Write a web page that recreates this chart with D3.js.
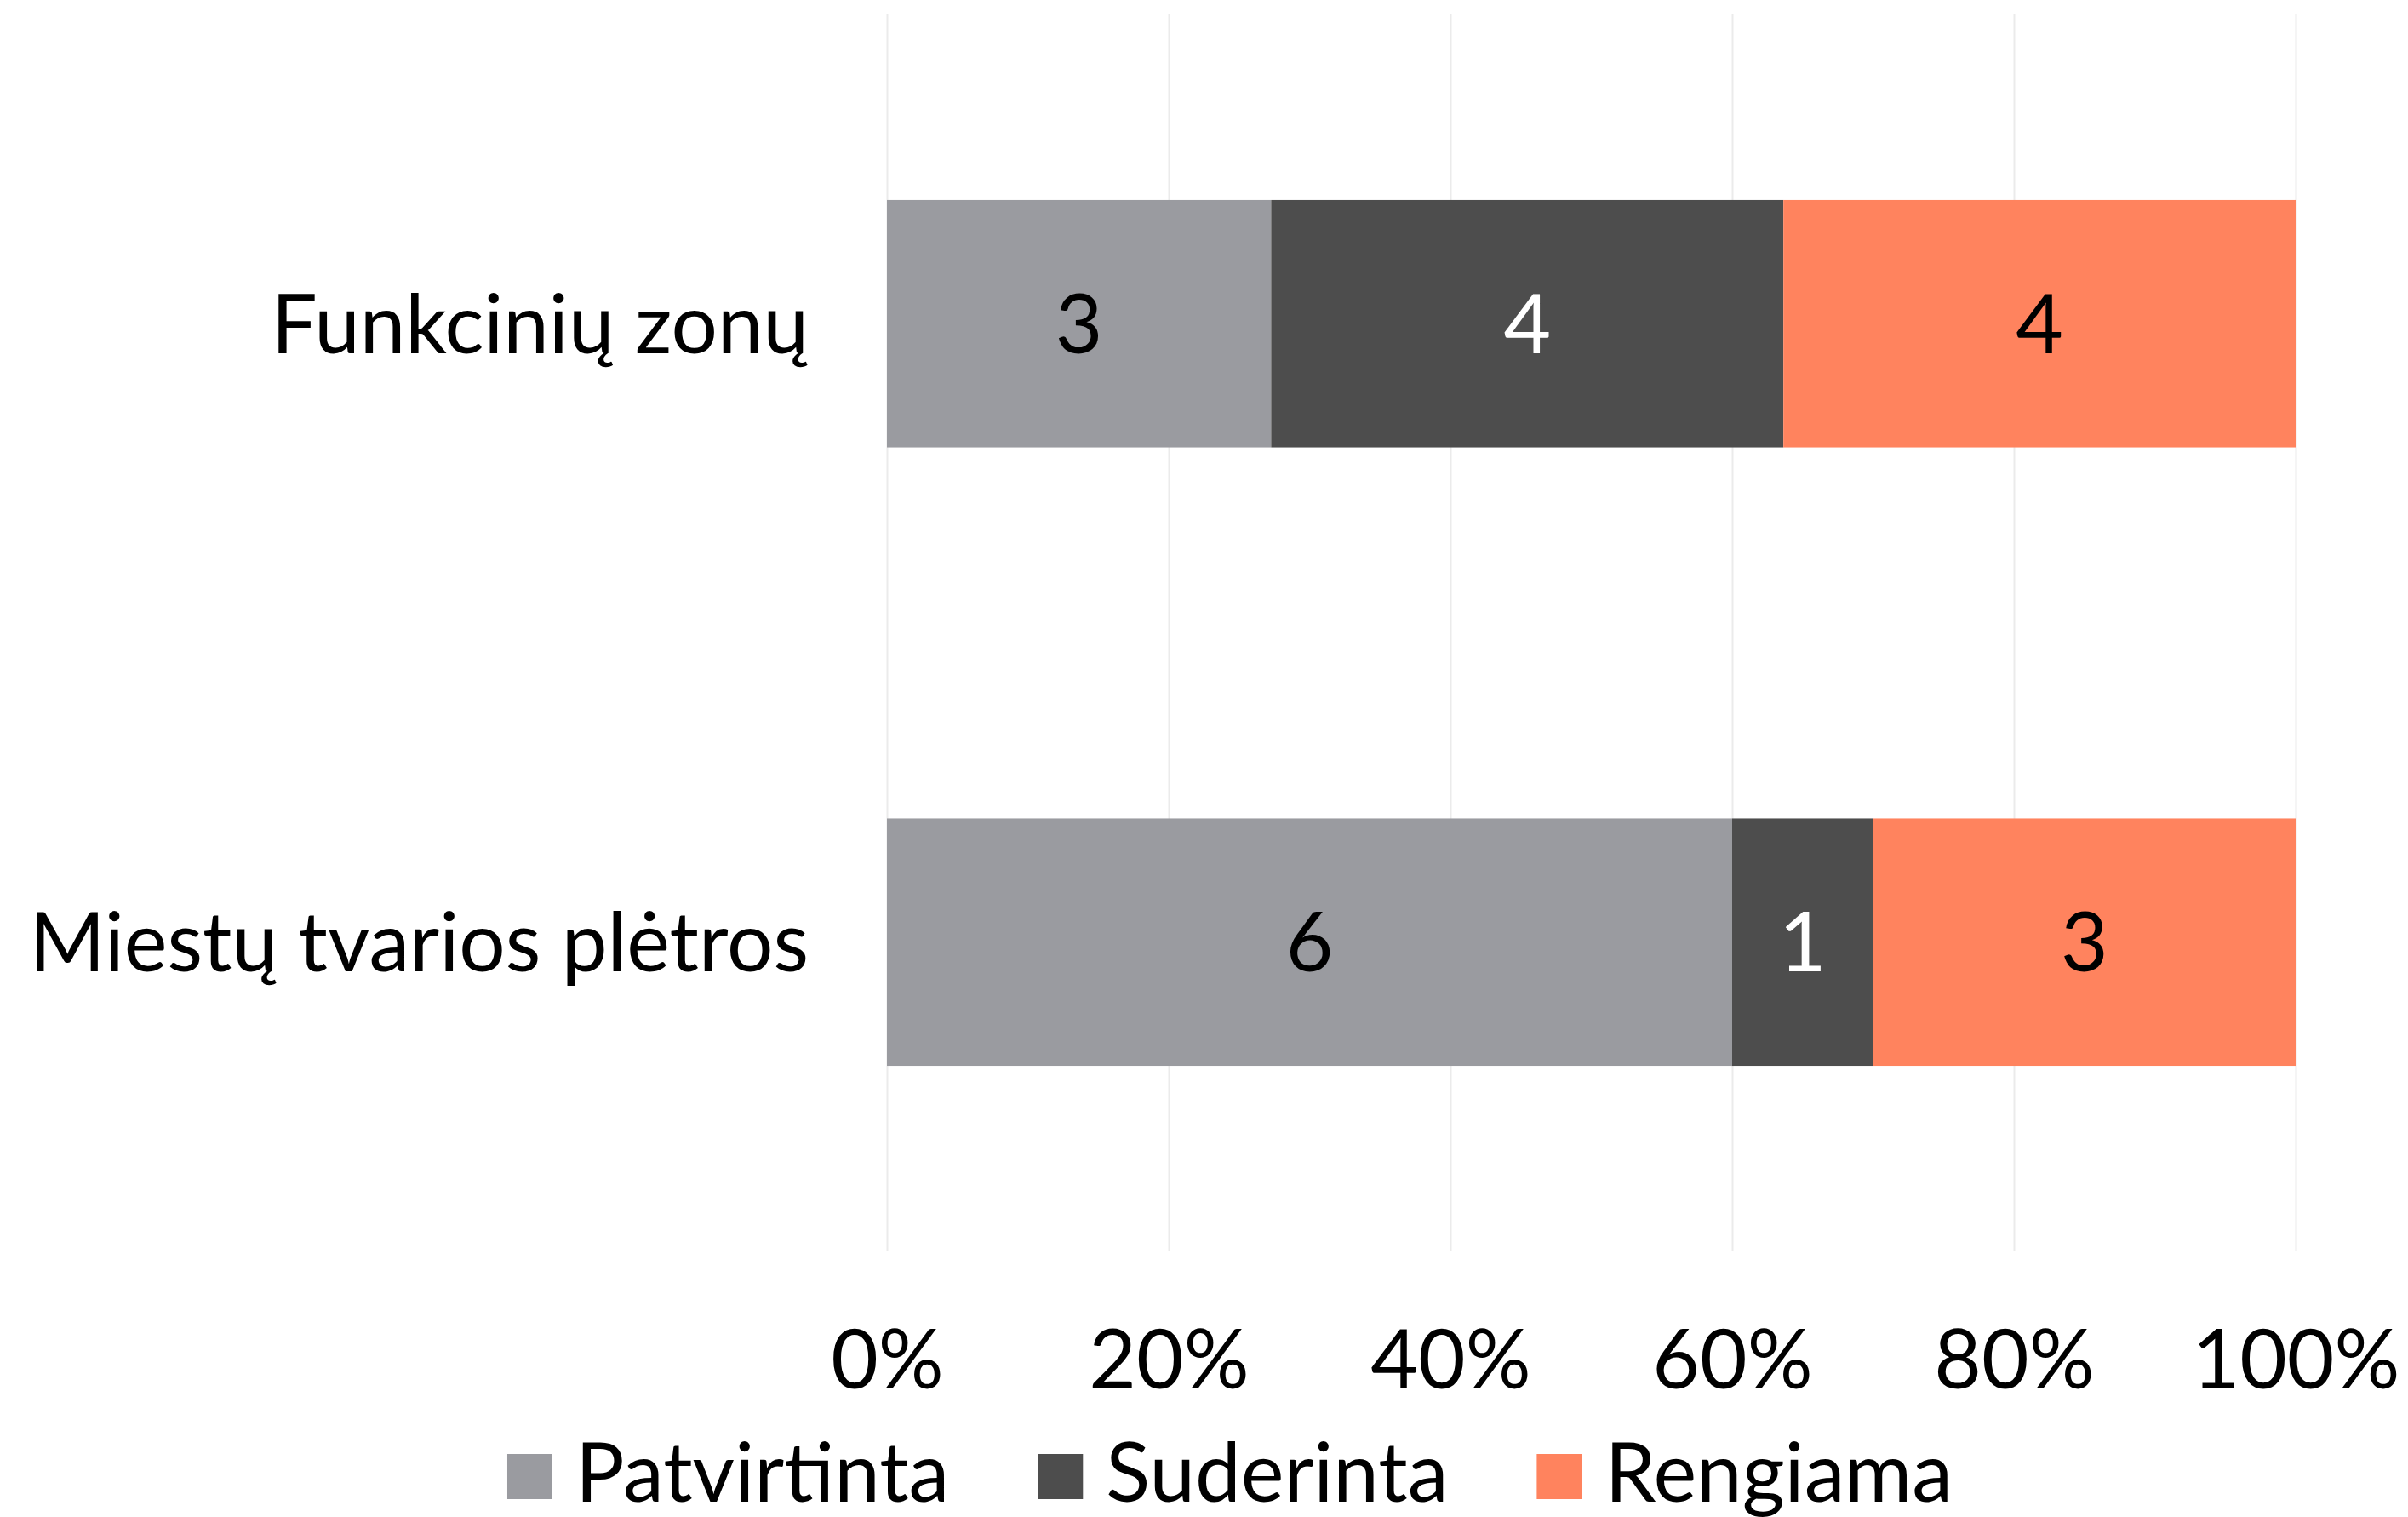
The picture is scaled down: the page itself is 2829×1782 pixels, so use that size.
<!DOCTYPE html>
<html>
<head>
<meta charset="utf-8">
<script src="https://cdn.jsdelivr.net/npm/d3@7"></script>
<style>
  body { margin: 0; background: #fff; }
  text { font-family: Lato, "Noto Sans", sans-serif; }
</style>
</head>
<body>
<div id="chart"></div>
<script>
const categories = ['Funkcinių zonų', 'Miestų tvarios plėtros'];
const seriesNames = ['Patvirtinta', 'Suderinta', 'Rengiama'];
const patvirtinta = [3, 6];
const suderinta = [4, 1];
const rengiama = [4, 3];
const tickValues = [0, 0.2, 0.4, 0.6, 0.8, 1];

const colors = ['#9a9ba0', '#4d4d4d', '#ff835e'];
const labelColors = ['#000', '#fff', '#000'];

const width = 2829;
const height = 1782;
const margin = {top: 17, right: 132, bottom: 312, left: 1042};
const fontSize = 96;

const rows = categories.map((c, i) => ({
    cat: c,
    Patvirtinta: patvirtinta[i],
    Suderinta: suderinta[i],
    Rengiama: rengiama[i]
}));

const stacked = d3.stack()
    .keys(seriesNames)
    .offset(d3.stackOffsetExpand)(rows);

const svg = d3.select('#chart')
    .append('svg')
    .attr('width', width)
    .attr('height', height);

const plotW = width - margin.left - margin.right;
const plotH = height - margin.top - margin.bottom;

const g = svg.append('g')
    .attr('transform', `translate(${margin.left}, ${margin.top})`);

let x = d3.scaleLinear().domain([0, 1]).range([0, plotW]);
let y = d3.scaleBand()
    .domain(categories)
    .range([0, plotH])
    .paddingInner(0.6)
    .paddingOuter(0.3);

// gridlines
g.append('g')
    .attr('transform', `translate(0, ${plotH})`)
    .call(d3.axisBottom(x).tickValues(tickValues).tickSize(-plotH).tickFormat(''))
    .call(a => a.select('.domain').remove())
    .selectAll('line')
    .attr('stroke', '#ebebeb')
    .attr('stroke-width', 2);

// tick labels
g.append('g')
    .attr('transform', `translate(0, ${plotH})`)
    .call(d3.axisBottom(x).tickValues(tickValues).tickSize(0).tickPadding(93).tickFormat(d3.format('.0%')))
    .call(a => a.select('.domain').remove())
    .selectAll('text')
    .style('font-size', fontSize + 'px')
    .style('font-family', 'Lato')
    .attr('fill', '#000');

// category labels
g.append('g').selectAll('text')
    .data(categories)
    .enter().append('text')
    .attr('x', -92)
    .attr('y', d => y(d) + y.bandwidth() / 2)
    .attr('dy', '0.36em')
    .style('text-anchor', 'end')
    .style('font-size', fontSize + 'px')
    .text(d => d);

// bars
const layers = g.selectAll('.layer')
    .data(stacked)
    .enter().append('g')
    .attr('class', 'layer')
    .attr('fill', (d, i) => colors[i]);

layers.selectAll('rect')
    .data(d => d)
    .enter().append('rect')
    .attr('x', d => x(d[0]))
    .attr('y', d => y(d.data.cat))
    .attr('width', d => x(d[1]) - x(d[0]))
    .attr('height', y.bandwidth());

layers.selectAll('.val')
    .data((d, i) => d.map(p => ({p: p, key: d.key, i: i})))
    .enter().append('text')
    .attr('class', 'val')
    .attr('x', d => (x(d.p[0]) + x(d.p[1])) / 2)
    .attr('y', d => y(d.p.data.cat) + y.bandwidth() / 2)
    .attr('dy', '0.36em')
    .style('text-anchor', 'middle')
    .style('font-size', fontSize + 'px')
    .attr('fill', d => labelColors[d.i])
    .text(d => d.p.data[d.key]);

// legend
const legend = svg.append('g');
const sq = 53, gap = 27, itemGap = 104;
let lx = 0;
seriesNames.forEach((s, i) => {
    const item = legend.append('g').attr('transform', `translate(${lx}, 0)`);
    item.append('rect')
        .attr('x', 0).attr('y', 1708)
        .attr('width', sq).attr('height', sq)
        .attr('fill', colors[i]);
    const t = item.append('text')
        .attr('x', sq + gap).attr('y', 1764)
        .style('font-size', fontSize + 'px')
        .text(s);
    lx += sq + gap + t.node().getComputedTextLength() + itemGap;
});
lx -= itemGap;
legend.attr('transform', `translate(${1445 - lx / 2}, 0)`);
</script>
</body>
</html>
